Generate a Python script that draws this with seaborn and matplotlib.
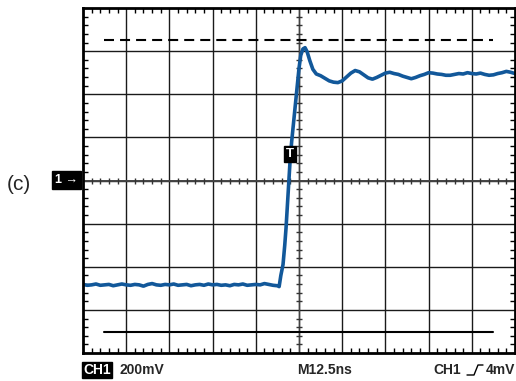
import numpy as np
import pandas as pd
import matplotlib
matplotlib.use("Agg")
import matplotlib.pyplot as plt
from matplotlib.lines import Line2D
import seaborn as sns

# Step response of channel 1, in screen divisions (10 x 8 graticule)
t_div = [
    -5.0, -4.9, -4.8, -4.7, -4.6, -4.5, -4.4, -4.3, -4.2, -4.1,
    -4.0, -3.9, -3.8, -3.7, -3.6, -3.5, -3.4, -3.3, -3.2, -3.1,
    -3.0, -2.9, -2.8, -2.7, -2.6, -2.5, -2.4, -2.3, -2.2, -2.1,
    -2.0, -1.9, -1.8, -1.7, -1.6, -1.5, -1.4, -1.3, -1.2, -1.1,
    -1.0, -0.9, -0.8, -0.7, -0.6, -0.5,
    -0.46, -0.42, -0.37, -0.33, -0.30, -0.27, -0.24, -0.21, -0.17, -0.13,
    -0.08, -0.04, 0.0, 0.04, 0.09, 0.14, 0.19, 0.25, 0.32, 0.40,
    0.5, 0.6, 0.7, 0.8, 0.9, 1.0, 1.1, 1.2, 1.3, 1.4,
    1.5, 1.6, 1.7, 1.8, 1.9, 2.0, 2.1, 2.2, 2.3, 2.4,
    2.5, 2.6, 2.7, 2.8, 2.9, 3.0, 3.1, 3.2, 3.3, 3.4,
    3.5, 3.6, 3.7, 3.8, 3.9, 4.0, 4.1, 4.2, 4.3, 4.4,
    4.5, 4.6, 4.7, 4.8, 4.9, 5.0,
]
v_div = [
    -2.41, -2.43, -2.42, -2.40, -2.43, -2.42, -2.41, -2.44, -2.42, -2.40,
    -2.42, -2.43, -2.41, -2.42, -2.45, -2.41, -2.39, -2.42, -2.43, -2.41,
    -2.42, -2.40, -2.43, -2.42, -2.41, -2.44, -2.42, -2.41, -2.43, -2.40,
    -2.42, -2.41, -2.43, -2.42, -2.44, -2.41, -2.42, -2.40, -2.43, -2.42,
    -2.41, -2.42, -2.39, -2.41, -2.43, -2.44,
    -2.46, -2.20, -1.95, -1.50, -1.10, -0.60, -0.10, 0.40, 0.90, 1.30,
    1.80, 2.20, 2.60, 2.90, 3.05, 3.08, 2.98, 2.78, 2.58, 2.47,
    2.43, 2.37, 2.31, 2.28, 2.27, 2.31, 2.40, 2.49, 2.55, 2.52,
    2.45, 2.38, 2.35, 2.39, 2.44, 2.49, 2.51, 2.48, 2.46, 2.42,
    2.39, 2.36, 2.39, 2.43, 2.46, 2.50, 2.49, 2.47, 2.46, 2.44,
    2.44, 2.46, 2.48, 2.47, 2.50, 2.48, 2.47, 2.49, 2.46, 2.44,
    2.45, 2.48, 2.50, 2.53, 2.51, 2.48,
]

# Cursor levels and their horizontal extent (divisions)
cursor_high = 3.25
cursor_low = -3.52
cursor_span = [-4.51, 4.49]

# Trigger marker position on the trace
trigger_t, trigger_v = -0.21, 0.61

# Readout strings
ch_label = "CH1"
volts_div = "200mV"
time_div = "M12.5ns"
trig_src = "CH1"
trig_level = "4mV"
panel_tag = "(c)"

sns.set_style("white")
plt.rcParams["font.family"] = ["Liberation Sans", "DejaVu Sans"]

W, H = 516, 381
fig = plt.figure(figsize=(W / 100, H / 100), dpi=100)
ax = fig.add_axes([83 / W, (H - 353) / H, 432 / W, 345 / H])

df = pd.DataFrame({"t": t_div, "v": v_div})

# graticule
for x in range(-4, 5):
    ax.axvline(x, color="#1a1a1a", lw=1.0, zorder=1)
for y in range(-3, 4):
    ax.axhline(y, color="#1a1a1a", lw=1.0, zorder=1)
ax.axhline(0, color="#444444", lw=1.4, zorder=1)
ax.axvline(0, color="#444444", lw=1.0, zorder=1)

# crossing ticks on the centre lines
minor = np.round(np.arange(-5, 5.01, 0.2), 2)
minor_x = [m for m in minor if abs(m - round(m)) > 1e-6]
minor_y = [m for m in minor if abs(m) < 4 and abs(m - round(m)) > 1e-6]
ax.plot(minor_x, [0] * len(minor_x), ls="none", marker="|", ms=5, mew=1.0,
        color="#333333", zorder=2)
ax.plot([0] * len(minor_y), minor_y, ls="none", marker="_", ms=5, mew=1.0,
        color="#333333", zorder=2)

# cursors
ax.plot(cursor_span, [cursor_high] * 2, color="black", lw=1.5,
        dashes=(4.8, 2.9), zorder=2)
ax.plot(cursor_span, [cursor_low] * 2, color="black", lw=1.5, zorder=2)

# trace
sns.lineplot(data=df, x="t", y="v", ax=ax, color="#12589a", lw=2.6,
             sort=False, estimator=None, zorder=3)

ax.set_xlim(-5, 5)
ax.set_ylim(-4, 4)
ax.set_xlabel("")
ax.set_ylabel("")
ax.set_xticks(np.arange(-5, 6, 1))
ax.set_yticks(np.arange(-4, 5, 1))
ax.set_xticks(minor, minor=True)
ax.set_yticks(np.round(np.arange(-4, 4.01, 0.2), 2), minor=True)
ax.tick_params(which="both", direction="in", top=True, right=True,
               bottom=True, left=True, labelbottom=False, labelleft=False,
               color="black")
ax.tick_params(which="minor", length=3.5, width=1.0)
ax.tick_params(which="major", length=0)
for s in ax.spines.values():
    s.set_color("black")
    s.set_linewidth(2.0)
    s.set_zorder(4)

# trigger marker
ax.text(trigger_t, trigger_v, "T", color="white", fontsize=9.5,
        fontweight="bold", ha="center", va="center", zorder=5,
        bbox=dict(boxstyle="square,pad=0.15", fc="black", ec="black"))


def fx(px):
    return px / W


def fy(py):
    return 1 - py / H


# channel ground marker
fig.text(fx(66.5), fy(180), "1 \u2192", color="white", fontsize=9,
         fontweight="bold", ha="center", va="center",
         bbox=dict(boxstyle="square,pad=0.22", fc="black", ec="black"))

fig.text(fx(7), fy(184), panel_tag, fontsize=15, ha="left", va="center")

# readout line
fig.text(fx(83), fy(370), ch_label, color="white", fontsize=10,
         fontweight="bold", ha="left", va="center",
         bbox=dict(boxstyle="square,pad=0.08", fc="black", ec="black"))
fig.text(fx(119), fy(370), volts_div, fontsize=10, fontweight="bold",
         ha="left", va="center")
fig.text(fx(325), fy(370), time_div, fontsize=10, fontweight="bold",
         ha="center", va="center")
fig.text(fx(433), fy(370), trig_src, fontsize=10, fontweight="bold",
         ha="left", va="center")
fig.text(fx(515), fy(370), trig_level, fontsize=10, fontweight="bold",
         ha="right", va="center")
# rising-edge trigger glyph
fig.add_artist(Line2D([fx(467), fx(474), fx(478), fx(483)],
                      [fy(375), fy(375), fy(365), fy(365)],
                      transform=fig.transFigure, color="black", lw=1.0))

fig.savefig("out.png", dpi=100, facecolor="white")
